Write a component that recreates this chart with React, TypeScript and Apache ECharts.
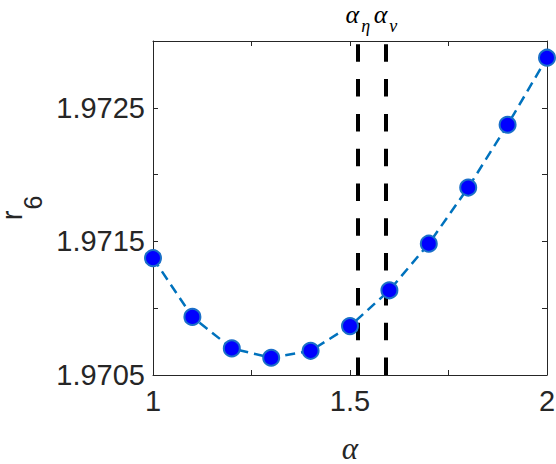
import React, { useEffect, useRef } from "react";
import * as echarts from "echarts";

const alphaValues = [1.0, 1.1, 1.2, 1.3, 1.4, 1.5, 1.6, 1.7, 1.8, 1.9, 2.0];
const r6Values = [
  1.971375, 1.970935, 1.970699, 1.970629, 1.970681, 1.970866, 1.971134,
  1.971483, 1.971903, 1.972373, 1.972875,
];
const alphaEta = 1.521;
const alphaNu = 1.5906;
const xTickLabels = [1, 1.5, 2];
const yTickLabels = [1.9705, 1.9715, 1.9725];

const AXIS_COLOR = "#262626";
const SANS = "Liberation Sans, Arial, sans-serif";
const SERIF = "Liberation Serif, Times New Roman, serif";

export default function App() {
  const ref = useRef<HTMLDivElement>(null);
  useEffect(() => {
    if (!ref.current) return;
    const chart = echarts.init(ref.current, null, { renderer: "svg" });
    const isLabelX = (v: number) => xTickLabels.some((t) => Math.abs(t - v) < 1e-6);
    const isLabelY = (v: number) => yTickLabels.some((t) => Math.abs(t - v) < 1e-7);
    const vLineLabel = (sub: string) => ({
      show: true,
      position: "end",
      distance: 4,
      formatter: `{a|α}{s|${sub}}`,
      rich: {
        a: { fontFamily: SERIF, fontStyle: "italic", fontSize: 26, color: "#000", verticalAlign: "top", lineHeight: 36 },
        s: { fontFamily: SERIF, fontStyle: "italic", fontSize: 18, color: "#000", verticalAlign: "top", padding: [16, 0, 0, 2], lineHeight: 36 },
      },
    });
    const edgeAxis = {
      axisLine: { show: true, onZero: false, lineStyle: { color: AXIS_COLOR, width: 1 } },
      axisTick: { show: true, inside: true, length: 5, lineStyle: { color: AXIS_COLOR } },
      splitLine: { show: false },
    };
    const option: any = {
      animation: false,
      grid: { left: 153, right: 9, top: 41, bottom: 89, containLabel: false, outerBoundsMode: "none" },
      xAxis: [
        {
          type: "value",
          min: 1,
          max: 2,
          interval: 0.25,
          ...edgeAxis,
          axisLabel: {
            fontFamily: SANS,
            fontSize: 29,
            color: AXIS_COLOR,
            margin: 11,
            formatter: (v: number) => (isLabelX(v) ? String(v) : ""),
          },
          name: "α",
          nameLocation: "middle",
          nameGap: 58,
          nameTextStyle: { fontFamily: SERIF, fontStyle: "italic", fontSize: 31, lineHeight: 30, color: AXIS_COLOR },
        },
        {
          type: "value",
          position: "top",
          min: 1,
          max: 2,
          interval: 0.25,
          ...edgeAxis,
          axisLabel: { show: false },
        },
      ],
      yAxis: [
        {
          type: "value",
          min: 1.9705,
          max: 1.973,
          interval: 0.0005,
          ...edgeAxis,
          axisLabel: {
            fontFamily: SANS,
            fontSize: 29,
            color: AXIS_COLOR,
            margin: 8,
            formatter: (v: number) => (isLabelY(v) ? v.toFixed(4) : ""),
          },
          name: "{r|r}{s|6}",
          nameLocation: "middle",
          nameRotate: 90,
          nameGap: 100,
          nameTextStyle: {
            rich: {
              r: { fontFamily: SANS, fontSize: 29, color: AXIS_COLOR, verticalAlign: "top", lineHeight: 50 },
              s: { fontFamily: SANS, fontSize: 25, color: AXIS_COLOR, verticalAlign: "top", padding: [23, 0, 0, 1], lineHeight: 50 },
            },
          },
        },
        {
          type: "value",
          position: "right",
          min: 1.9705,
          max: 1.973,
          interval: 0.0005,
          ...edgeAxis,
          axisLabel: { show: false },
        },
      ],
      series: [
        {
          type: "line",
          name: "alphaEta",
          data: [],
          markLine: {
            silent: true,
            symbol: "none",
            lineStyle: { color: "#000", width: 4, type: [17.5, 17.3] },
            label: vLineLabel("η"),
            data: [{ xAxis: alphaEta }],
          },
        },
        {
          type: "line",
          name: "alphaNu",
          data: [],
          markLine: {
            silent: true,
            symbol: "none",
            lineStyle: { color: "#000", width: 4, type: [17.5, 17.3] },
            label: vLineLabel("ν"),
            data: [{ xAxis: alphaNu }],
          },
        },
        {
          type: "line",
          name: "r6",
          data: alphaValues.map((a, i) => [a, r6Values[i]]),
          symbol: "circle",
          symbolSize: 16,
          itemStyle: { color: "#0000ff", borderColor: "#1a6fc9", borderWidth: 2 },
          lineStyle: { color: "#0072bd", width: 2.5, type: [10, 6] },
          z: 5,
        },
      ],
    };
    chart.setOption(option);
    return () => chart.dispose();
  }, []);
  return (
    <div
      ref={ref}
      style={{ position: "absolute", left: 0, top: 0, width: 556, height: 464, background: "#fff" }}
    />
  );
}
